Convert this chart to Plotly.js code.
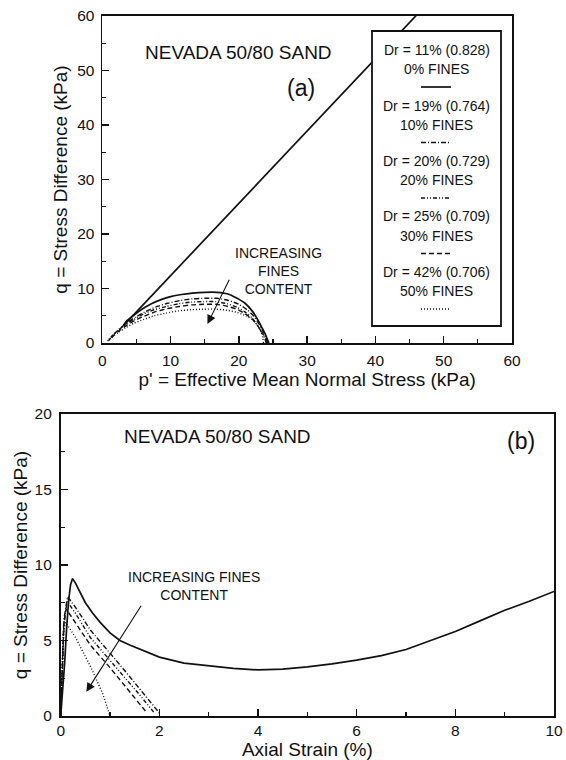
<!DOCTYPE html>
<html><head><meta charset="utf-8">
<script src="https://cdn.plot.ly/plotly-3.0.1.min.js"></script>
<style>html,body{margin:0;padding:0;background:#fff}</style>
</head><body><div id="chart" style="width:566px;height:760px"></div>
<script>
// ---- legend / series labels ----
const drLabels = ["Dr = 11% (0.828)", "Dr = 19% (0.764)", "Dr = 20% (0.729)", "Dr = 25% (0.709)", "Dr = 42% (0.706)"];
const finesLabels = ["0% FINES", "10% FINES", "20% FINES", "30% FINES", "50% FINES"];
const dashes = ["solid", "5px,2px,1px,2px", "4px,2px,1px,2px,1px,2px", "5px,3px", "1px,2px"];

// ---- (a) stress paths: p' (kPa) and q (kPa) ----
const envelopeP = [3.1, 46.5];
const envelopeQ = [3.2, 60.8];
const pathP0 = [24.4, 24.1, 23.8, 23.3, 22.8, 22.0, 20.9, 19.6, 18.4, 16.8, 15.0, 13.2, 11.6, 10.0, 8.7, 7.2, 5.8, 4.6, 3.6, 3.1];
const pathQ0 = [0, 0.9, 1.8, 3.0, 4.2, 5.8, 7.3, 8.3, 9.0, 9.3, 9.3, 9.15, 8.9, 8.5, 8.0, 7.2, 6.2, 5.1, 4.1, 3.2];
const pathP10 = [24.2, 24.0, 23.6, 23.0, 22.2, 21.2, 20.0, 18.5, 16.8, 15.0, 13.2, 11.4, 9.6, 7.8, 6.2, 4.8, 3.6, 2.6, 1.7, 1.0];
const pathQ10 = [0, 0.9, 2.0, 3.4, 4.9, 6.1, 7.1, 7.8, 8.2, 8.2, 8.1, 7.8, 7.3, 6.6, 5.7, 4.7, 3.7, 2.7, 1.6, 0.6];
const pathP20 = [24.0, 23.8, 23.4, 22.8, 22.0, 21.0, 19.8, 18.3, 16.6, 14.8, 13.0, 11.2, 9.4, 7.6, 6.0, 4.6, 3.4, 2.4, 1.5, 0.8];
const pathQ20 = [0, 0.8, 1.8, 3.1, 4.5, 5.6, 6.5, 7.2, 7.6, 7.6, 7.5, 7.2, 6.7, 6.1, 5.3, 4.3, 3.4, 2.4, 1.4, 0.4];
const pathP30 = [24.1, 23.9, 23.5, 22.9, 22.1, 21.1, 19.9, 18.4, 16.7, 14.9, 13.1, 11.3, 9.5, 7.7, 6.1, 4.7, 3.5, 2.5, 1.6, 0.9];
const pathQ30 = [0, 0.8, 1.7, 2.9, 4.2, 5.2, 6.1, 6.7, 7.1, 7.1, 7.0, 6.7, 6.3, 5.7, 4.9, 4.1, 3.2, 2.3, 1.3, 0.4];
const pathP50 = [23.6, 23.5, 23.2, 22.7, 22.0, 21.0, 19.8, 18.3, 16.6, 14.8, 13.0, 11.2, 9.4, 7.6, 6.0, 4.6, 3.4, 2.3, 1.4, 0.6];
const pathQ50 = [0, 1.0, 2.2, 3.3, 4.3, 5.0, 5.6, 6.0, 6.2, 6.2, 6.1, 5.9, 5.5, 5.0, 4.3, 3.6, 2.8, 1.9, 1.1, 0.2];

// ---- (b) stress-strain: axial strain (%) and q (kPa) ----
const strain0 = [0, 0.04, 0.08, 0.12, 0.16, 0.20, 0.24, 0.30, 0.40, 0.50, 0.65, 0.80, 1.0, 1.2, 1.4, 1.7, 2.0, 2.5, 3.0, 3.5, 4.0, 4.5, 5.0, 5.5, 6.0, 6.5, 7.0, 7.5, 8.0, 8.5, 9.0, 9.5, 10.0];
const qb0 = [0, 1.5, 3.5, 5.8, 7.6, 8.7, 9.1, 8.8, 8.1, 7.5, 6.8, 6.2, 5.5, 5.0, 4.7, 4.3, 3.9, 3.5, 3.3, 3.15, 3.05, 3.1, 3.25, 3.45, 3.7, 4.0, 4.4, 5.0, 5.6, 6.3, 7.0, 7.6, 8.25];
const strain10 = [0, 0.03, 0.07, 0.14, 0.3, 0.6, 1.0, 1.3, 1.6, 1.85, 2.0];
const qb10 = [0, 3.0, 6.5, 7.9, 7.2, 5.7, 4.2, 3.0, 1.8, 0.8, 0.2];
const strain20 = [0, 0.03, 0.07, 0.13, 0.3, 0.6, 1.0, 1.3, 1.6, 1.8, 1.9];
const qb20 = [0, 3.0, 6.2, 7.6, 6.8, 5.2, 3.7, 2.6, 1.4, 0.6, 0.2];
const strain30 = [0, 0.03, 0.06, 0.11, 0.3, 0.6, 1.0, 1.3, 1.55, 1.75];
const qb30 = [0, 3.0, 6.0, 7.1, 6.2, 4.7, 3.2, 2.0, 1.0, 0.2];
const strain50 = [0, 0.02, 0.05, 0.1, 0.3, 0.6, 0.85, 1.0];
const qb50 = [0, 3.0, 5.5, 6.2, 5.2, 3.3, 1.5, 0];

const FONT = "Liberation Sans, Arial, Helvetica, sans-serif";
const W = 566, H = 760;
const ln = (d) => ({color: "#111", width: d === "solid" ? 1.7 : 1.4, dash: d});

const pathsA = [[pathP0, pathQ0], [pathP10, pathQ10], [pathP20, pathQ20], [pathP30, pathQ30], [pathP50, pathQ50]];
const pathsB = [[strain0, qb0], [strain10, qb10], [strain20, qb20], [strain30, qb30], [strain50, qb50]];

const traces = [];
traces.push({x: envelopeP, y: envelopeQ, xaxis: "x", yaxis: "y", mode: "lines", line: ln("solid"), showlegend: false, hoverinfo: "skip"});
pathsA.forEach((s, i) => traces.push({x: s[0], y: s[1], xaxis: "x", yaxis: "y", mode: "lines", line: Object.assign(ln(dashes[i]), {shape: "spline", smoothing: 0.6}), name: drLabels[i], showlegend: false}));
pathsB.forEach((s, i) => traces.push({x: s[0], y: s[1], xaxis: "x2", yaxis: "y2", mode: "lines", line: ln(dashes[i]), name: drLabels[i], showlegend: false}));

const axBase = {showgrid: false, zeroline: false, showline: true, mirror: true, linecolor: "#111", linewidth: 1.8,
  ticks: "inside", ticklen: 7, tickwidth: 1.5, tickcolor: "#111", tickfont: {family: FONT, size: 15.5, color: "#111"}};

const tfont = {family: FONT, size: 19, color: "#111"};
const layout = {
  width: W, height: H, margin: {l: 0, r: 0, t: 0, b: 0}, paper_bgcolor: "#fff", plot_bgcolor: "#fff", showlegend: false,
  xaxis: Object.assign({}, axBase, {domain: [102.3 / W, 512 / W], range: [0, 60], dtick: 10, anchor: "y", ticklabelstandoff: 3,
    minor: {ticks: "inside", ticklen: 4, dtick: 5, tickcolor: "#111", tickwidth: 1.2},
    title: {text: "p' = Effective Mean Normal Stress (kPa)", font: tfont, standoff: 2}}),
  yaxis: Object.assign({}, axBase, {domain: [1 - 343 / H, 1 - 16 / H], range: [0, 60], dtick: 10, anchor: "x", ticklabelstandoff: 3,
    minor: {ticks: "inside", ticklen: 4, dtick: 5, tickcolor: "#111", tickwidth: 1.2},
    title: {text: "q = Stress Difference (kPa)", font: tfont, standoff: 4}}),
  xaxis2: Object.assign({}, axBase, {domain: [60.7 / W, 554 / W], range: [0, 10], dtick: 2, anchor: "y2", ticklabelstandoff: 0,
    minor: {ticks: "inside", ticklen: 4, dtick: 1, tickcolor: "#111", tickwidth: 1.2},
    title: {text: "Axial Strain (%)", font: tfont, standoff: 2}}),
  yaxis2: Object.assign({}, axBase, {domain: [1 - 716 / H, 1 - 414 / H], range: [0, 20], dtick: 5, anchor: "x2", ticklabelstandoff: 4,
    minor: {ticks: "inside", ticklen: 4, dtick: 2.5, tickcolor: "#111", tickwidth: 1.2},
    title: {text: "q = Stress Difference (kPa)", font: tfont, standoff: 2}}),
  annotations: [], shapes: []
};

const A = layout.annotations;
const txt = (x, y, xr, yr, t, size) => A.push({x: x, y: y, xref: xr, yref: yr, text: t, showarrow: false,
  xanchor: "center", yanchor: "middle", font: {family: FONT, size: size, color: "#111"}});
txt(19.9, 53.3, "x", "y", "NEVADA 50/80 SAND", 19);
txt(29.1, 46.8, "x", "y", "(a)", 23);
txt(25.8, 13.3, "x", "y", "INCREASING<br>FINES<br>CONTENT", 14);
txt(3.17, 18.48, "x2", "y2", "NEVADA 50/80 SAND", 19);
txt(9.33, 18.2, "x2", "y2", "(b)", 23);
txt(2.70, 8.6, "x2", "y2", "INCREASING FINES<br>CONTENT", 14);

A.push({x: 15.4, y: 3.5, ax: 18.7, ay: 11.9, xref: "x", yref: "y", axref: "x", ayref: "y", text: "", showarrow: true,
  arrowhead: 2, arrowsize: 1.6, arrowwidth: 1.1, arrowcolor: "#111"});
A.push({x: 0.52, y: 1.6, ax: 1.65, ay: 7.4, xref: "x2", yref: "y2", axref: "x2", ayref: "y2", text: "", showarrow: true,
  arrowhead: 2, arrowsize: 1.6, arrowwidth: 1.1, arrowcolor: "#111"});

// legend box
layout.shapes.push({type: "rect", xref: "paper", yref: "paper", x0: 372 / W, x1: 501 / W, y0: 1 - 326 / H, y1: 1 - 31 / H,
  line: {color: "#111", width: 1.8}, fillcolor: "#fff", layer: "above"});
const cx = 436.5 / W;
drLabels.forEach((lab, i) => {
  const l1 = 50 + 55.5 * i;
  A.push({x: cx, y: 1 - l1 / H, xref: "paper", yref: "paper", text: lab, showarrow: false, xanchor: "center", yanchor: "middle", font: {family: FONT, size: 14, color: "#111"}});
  A.push({x: cx, y: 1 - (l1 + 19) / H, xref: "paper", yref: "paper", text: finesLabels[i], showarrow: false, xanchor: "center", yanchor: "middle", font: {family: FONT, size: 14, color: "#111"}});
  const sy = 1 - (l1 + 37) / H;
  layout.shapes.push({type: "line", xref: "paper", yref: "paper", x0: 421 / W, x1: 451 / W, y0: sy, y1: sy, line: ln(dashes[i]), layer: "above"});
});

Plotly.newPlot("chart", traces, layout, {staticPlot: true, displayModeBar: false});
</script></body></html>
